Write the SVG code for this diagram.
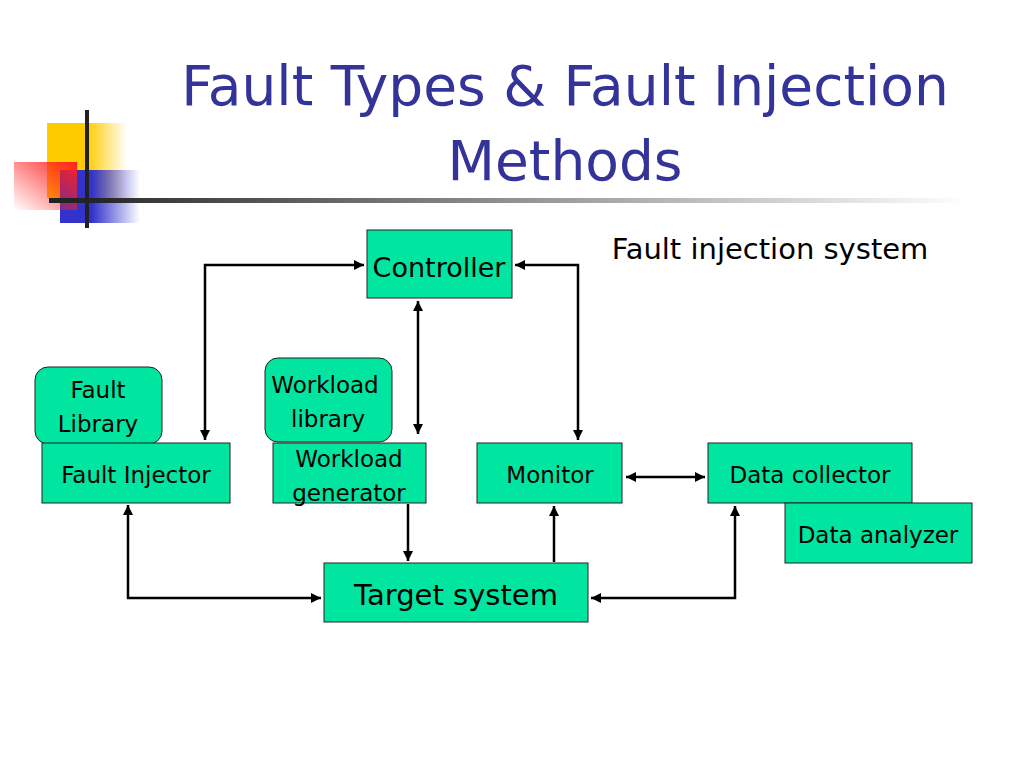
<svg xmlns="http://www.w3.org/2000/svg" width="1024" height="768" viewBox="0 0 1024 768">
<style>
.b{fill:#00e6a0;stroke:#222;stroke-width:1}
.t{font-family:"DejaVu Sans",Verdana,sans-serif;font-size:23px;fill:#000;text-anchor:middle}
.c{fill:none;stroke:#000;stroke-width:2.5}
.ti{font-family:"DejaVu Sans",Tahoma,sans-serif;font-size:55px;fill:#333399;text-anchor:middle}
</style>
<defs>
<marker id="a" viewBox="0 0 10 10" refX="10" refY="5" markerWidth="4" markerHeight="4" orient="auto-start-reverse"><path d="M0,0L10,5L0,10z" fill="#000"/></marker>
<linearGradient id="gy" x1="0" x2="1"><stop offset="0.5" stop-color="#ffcc00"/><stop offset="1" stop-color="#ffcc00" stop-opacity="0"/></linearGradient>
<linearGradient id="gb" x1="0" x2="1"><stop offset="0.4" stop-color="#3333cc"/><stop offset="1" stop-color="#3333cc" stop-opacity="0"/></linearGradient>
<linearGradient id="gr" x1="1" y1="0" x2="0" y2="1"><stop offset="0" stop-color="#ff2020"/><stop offset="1" stop-color="#ff2020" stop-opacity="0"/></linearGradient>
<linearGradient id="gl" x1="0" x2="1"><stop offset="0" stop-color="#222"/><stop offset="1" stop-color="#222" stop-opacity="0"/></linearGradient>
</defs>
<g id="logo">
<rect x="47" y="123" width="80" height="75" fill="url(#gy)"/>
<rect x="60" y="170" width="80" height="53" fill="url(#gb)"/>
<rect x="14" y="162" width="63" height="48" fill="url(#gr)"/>
<rect x="49" y="198" width="920" height="5" fill="url(#gl)"/>
<rect x="85" y="110" width="4" height="118" fill="#222"/>
</g>
<g id="title">
<text class="ti" x="565" y="105">Fault Types &amp; Fault Injection</text>
<text class="ti" x="565" y="180">Methods</text>
<text x="770" y="259" style="font-family:'DejaVu Sans',sans-serif;font-size:29px;text-anchor:middle">Fault injection system</text>
</g>
<g id="connectors">
<path class="c" d="M205,440V265H364" marker-start="url(#a)" marker-end="url(#a)"/>
<path class="c" d="M578,440V265H515" marker-start="url(#a)" marker-end="url(#a)"/>
<path class="c" d="M418,301V434" marker-start="url(#a)" marker-end="url(#a)"/>
<path class="c" d="M408,504V561" marker-end="url(#a)"/>
<path class="c" d="M128,505V598H321" marker-start="url(#a)" marker-end="url(#a)"/>
<path class="c" d="M554,562V506" marker-end="url(#a)"/>
<path class="c" d="M591,598H735V506" marker-start="url(#a)" marker-end="url(#a)"/>
<path class="c" d="M626,477H705" marker-start="url(#a)" marker-end="url(#a)"/>
</g>
<g id="controller"><rect class="b" x="367" y="230" width="145" height="68"/><text class="t" x="439" y="277" style="font-size:27px">Controller</text></g>
<g id="faultlib"><rect class="b" x="35" y="367" width="127" height="77" rx="13"/><text class="t" x="98" y="398">Fault</text><text class="t" x="98" y="432">Library</text></g>
<g id="faultinj"><rect class="b" x="42" y="443" width="188" height="60"/><text class="t" x="136" y="483">Fault Injector</text></g>
<g id="worklib"><rect class="b" x="265" y="358" width="127" height="84" rx="13"/><text class="t" x="325" y="393">Workload</text><text class="t" x="328" y="427">library</text></g>
<g id="workgen"><rect class="b" x="273" y="443" width="153" height="60"/><text class="t" x="349" y="467">Workload</text><text class="t" x="349" y="501">generator</text></g>
<g id="monitor"><rect class="b" x="477" y="443" width="145" height="60"/><text class="t" x="550" y="483">Monitor</text></g>
<g id="datacol"><rect class="b" x="708" y="443" width="204" height="60"/><text class="t" x="810" y="483">Data collector</text></g>
<g id="dataana"><rect class="b" x="785" y="503" width="187" height="60"/><text class="t" x="878" y="543">Data analyzer</text></g>
<g id="target"><rect class="b" x="324" y="563" width="264" height="59"/><text class="t" x="456" y="605" style="font-size:29px">Target system</text></g>
</svg>
